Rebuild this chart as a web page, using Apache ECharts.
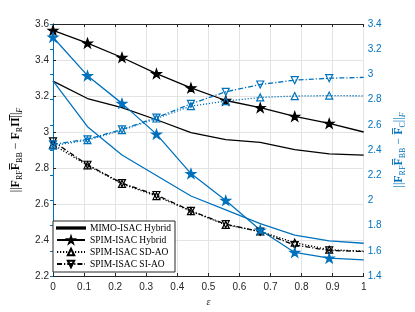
<!DOCTYPE html>
<html>
<head>
<meta charset="utf-8">
<script src="https://cdn.jsdelivr.net/npm/echarts@6/dist/echarts.min.js"></script>
<style>
html,body{margin:0;padding:0;background:#fff;}
#chart{width:415px;height:312px;}
</style>
</head>
<body>
<div id="chart"></div>
<script>
// ---- data ----
var epsilon = [0, 0.111, 0.222, 0.333, 0.444, 0.556, 0.667, 0.778, 0.889, 1];
var xTicks = [0, 0.1, 0.2, 0.3, 0.4, 0.5, 0.6, 0.7, 0.8, 0.9, 1];
var leftTicks = [2.2, 2.4, 2.6, 2.8, 3, 3.2, 3.4, 3.6];
var rightTicks = [1.4, 1.6, 1.8, 2, 2.2, 2.4, 2.6, 2.8, 3, 3.2, 3.4];
var seriesNames = ['MIMO-ISAC Hybrid', 'SPIM-ISAC Hybrid', 'SPIM-ISAC SD-AO', 'SPIM-ISAC SI-AO'];

// left axis (black): ||F_RF F_BB - F_R Pi||_F
var mimoLeft    = [3.283, 3.186, 3.135, 3.068, 2.996, 2.958, 2.942, 2.902, 2.879, 2.872];
var spimHybLeft = [3.565, 3.494, 3.414, 3.324, 3.245, 3.175, 3.135, 3.087, 3.048, 3.000];
var sdaoLeft    = [2.930, 2.815, 2.712, 2.644, 2.560, 2.484, 2.448, 2.385, 2.346, 2.338];
var siaoLeft    = [2.948, 2.818, 2.716, 2.650, 2.562, 2.488, 2.446, 2.372, 2.342, 2.336];

// right axis (blue): ||F_RF F_BB - F_C||_F
var mimoRight    = [2.948, 2.585, 2.360, 2.198, 2.035, 1.925, 1.815, 1.725, 1.678, 1.660];
var spimHybRight = [3.295, 2.990, 2.770, 2.526, 2.213, 2.000, 1.765, 1.587, 1.542, 1.528];
var sdaoRight    = [2.435, 2.478, 2.557, 2.650, 2.748, 2.788, 2.817, 2.828, 2.832, 2.830];
var siaoRight    = [2.445, 2.485, 2.563, 2.657, 2.766, 2.862, 2.920, 2.954, 2.970, 2.976];

// ---- styles ----
var BLACK = '#000000', BLUE = '#0072BD', AXIS = '#262626', GRIDC = '#e3e3e3';
var STAR = 'path://M50,0 L61.8,35.1 L97.6,35.1 L68.5,56.7 L79.4,90.9 L50,69.5 L20.6,90.9 L31.5,56.7 L2.4,35.1 L38.2,35.1 Z';
var styles = [
  {type: 'solid', symbol: 'none', rot: 0, size: 0, fill: true},
  {type: 'solid', symbol: STAR, rot: 0, size: 9.5, fill: true},
  {type: [1.2, 1.8], symbol: 'triangle', rot: 0, size: 7, fill: false},
  {type: [5, 2, 1.2, 2], symbol: 'triangle', rot: 180, size: 7, fill: false}
];

function step(t) { return Math.round((t[1] - t[0]) * 1e6) / 1e6; }
function fmt(v) { return String(+(+v).toFixed(3)); }

function makeSeries(name, vals, axis, color, st) {
  var data = vals.map(function (v, i) {
    var d = {value: [epsilon[i], v]};
    if (i === vals.length - 1) d.symbol = 'none';
    return d;
  });
  return {
    name: name, type: 'line', yAxisIndex: axis, xAxisIndex: 0,
    data: data,
    symbol: st.symbol, symbolSize: st.size, symbolRotate: st.rot,
    symbolKeepAspect: true, showAllSymbol: true,
    lineStyle: {color: color, width: 1.3, type: st.type},
    itemStyle: {color: st.fill ? color : 'rgba(255,255,255,0)', borderColor: color, borderWidth: 1.2},
    emphasis: {disabled: true},
    z: 3
  };
}

var series = [];
var lefts = [mimoLeft, spimHybLeft, sdaoLeft, siaoLeft];
var rights = [mimoRight, spimHybRight, sdaoRight, siaoRight];
for (var k = 0; k < 4; k++) series.push(makeSeries(seriesNames[k], lefts[k], 0, BLACK, styles[k]));
for (var k2 = 0; k2 < 4; k2++) series.push(makeSeries(seriesNames[k2] + ' (C)', rights[k2], 1, BLUE, styles[k2]));

var serif = '"Liberation Serif", "Times New Roman", "DejaVu Serif", serif';
var sans = '"Liberation Sans", Arial, Helvetica, sans-serif';
function richFor(color) {
  return {
    n: {fontFamily: serif, fontSize: 12, color: color, lineHeight: 17},
    b: {fontFamily: serif, fontSize: 12, fontWeight: 'bold', color: color, lineHeight: 17},
    s: {fontFamily: serif, fontSize: 8, color: color, verticalAlign: 'bottom', lineHeight: 10},
    si: {fontFamily: serif, fontSize: 8, fontStyle: 'italic', color: color, verticalAlign: 'bottom', lineHeight: 10}
  };
}

var legendData = seriesNames.map(function (n, i) {
  return i === 0 ? {name: n, icon: 'path://M0,0 L28,0 L28,1.3 L0,1.3 Z'} : {name: n};
});

var chart = echarts.init(document.getElementById('chart'), null, {renderer: 'canvas'});
chart.setOption({
  animation: false,
  backgroundColor: '#fff',
  grid: {left: 53, right: 39.5, top: 24, bottom: 34.3, containLabel: false},
  legend: {
    data: legendData,
    orient: 'vertical', left: 53, top: 221,
    padding: [2, 4, 3, 3], itemGap: 2, itemWidth: 28, itemHeight: 8,
    backgroundColor: '#fff', borderColor: AXIS, borderWidth: 1,
    textStyle: {fontFamily: serif, fontSize: 9.5, color: '#000'},
    selectedMode: false, z: 10
  },
  xAxis: [{
    type: 'value', position: 'bottom',
    min: xTicks[0], max: xTicks[xTicks.length - 1], interval: step(xTicks),
    name: 'ε', nameLocation: 'middle', nameGap: 21,
    nameTextStyle: {fontFamily: serif, fontStyle: 'italic', fontSize: 10, color: AXIS},
    axisLine: {lineStyle: {color: AXIS, width: 1}},
    axisTick: {inside: true, length: 3, lineStyle: {color: AXIS}},
    axisLabel: {fontFamily: sans, fontSize: 10, color: AXIS, margin: 6, formatter: fmt},
    splitLine: {show: true, lineStyle: {color: GRIDC, width: 1}}
  }, {
    type: 'value', position: 'top',
    min: xTicks[0], max: xTicks[xTicks.length - 1], interval: step(xTicks),
    axisLine: {show: true, lineStyle: {color: AXIS, width: 1}},
    axisTick: {inside: true, length: 3, lineStyle: {color: AXIS}},
    axisLabel: {show: false}, splitLine: {show: false}
  }],
  yAxis: [{
    type: 'value', position: 'left',
    min: leftTicks[0], max: leftTicks[leftTicks.length - 1], interval: step(leftTicks),
    name: '{n|||}{b|F}{s|RF}{b|F\u0305}{s|BB}{n| \u2212 }{b|F}{s|R}{b|\u03A0\u0305}{n|||}{si|F}',
    nameLocation: 'middle', nameGap: 28, nameRotate: 90,
    nameTextStyle: {rich: richFor('#000'), color: '#000'},
    axisLine: {show: true, lineStyle: {color: AXIS, width: 1}},
    axisTick: {show: true, inside: true, length: 3, lineStyle: {color: AXIS}},
    axisLabel: {fontFamily: sans, fontSize: 10, color: AXIS, margin: 4, formatter: fmt},
    splitLine: {show: true, lineStyle: {color: GRIDC, width: 1}}
  }, {
    type: 'value', position: 'right',
    min: rightTicks[0], max: rightTicks[rightTicks.length - 1], interval: step(rightTicks),
    name: '{n|||}{b|F}{s|RF}{b|F\u0305}{s|BB}{n| \u2212 }{b|F\u0305}{s|C}{n|||}{si|F}',
    nameLocation: 'middle', nameGap: 25, nameRotate: 90,
    nameTextStyle: {rich: richFor(BLUE), color: BLUE},
    axisLine: {show: true, lineStyle: {color: BLUE, width: 1}},
    axisTick: {show: true, inside: true, length: 3, lineStyle: {color: BLUE}},
    axisLabel: {fontFamily: sans, fontSize: 10, color: BLUE, margin: 4, formatter: fmt},
    splitLine: {show: false}
  }],
  series: series
});
</script>
</body>
</html>
